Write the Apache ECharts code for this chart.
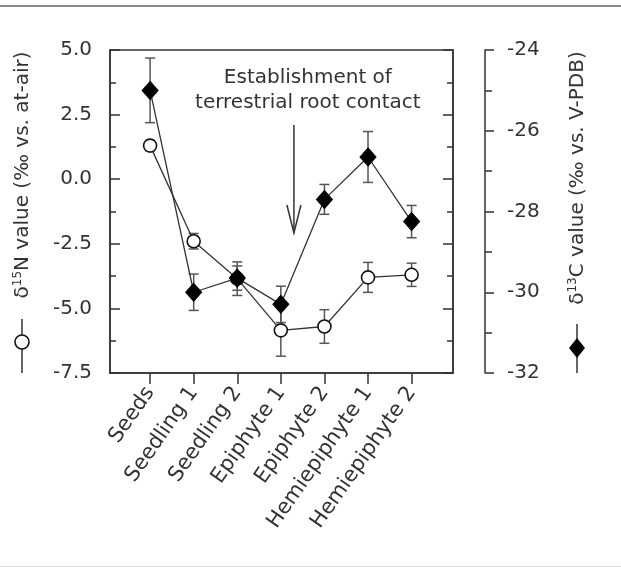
<!DOCTYPE html>
<html>
<head>
<meta charset="utf-8">
<script src="https://cdn.jsdelivr.net/npm/echarts@6/dist/echarts.min.js"></script>
<style>
  html, body { margin: 0; padding: 0; background: #fff; }
  #chart { width: 621px; height: 568px; }
</style>
</head>
<body>
<div id="chart"></div>
<script>
// 分类和数据
const categories = ['Seeds', 'Seedling 1', 'Seedling 2', 'Epiphyte 1', 'Epiphyte 2', 'Hemiepiphyte 1', 'Hemiepiphyte 2'];
const n15Values = [1.3, -2.4, -3.85, -5.85, -5.7, -3.8, -3.7];
const n15Errors = [0.2, 0.3, 0.65, 1.0, 0.65, 0.58, 0.45];
const c13Values = [-25.0, -30.0, -29.65, -30.3, -27.7, -26.65, -28.25];
const c13Errors = [0.8, 0.45, 0.3, 0.45, 0.37, 0.63, 0.4];
const tickPositions = [0, 1, 2, 3, 4, 5, 6];
// 箭头注释 (x, 上端, 下端) 和文字位置
const arrowAt = [3.3, 2.1, -2.08];
const noteAt = [3.62, 3.43];
const noteText = 'Establishment of\nterrestrial root contact';

const ink = '#333';
const font = 'DejaVu Sans';

let chart = echarts.init(document.getElementById('chart'));

function toPoints(vals) {
	return vals.map(function(v, i) { return [i, v]; });
}
function toErrors(vals, errs) {
	return vals.map(function(v, i) { return [i, v + errs[i], v - errs[i]]; });
}
function errorBar(params, api) {
	let top = api.coord([api.value(0), api.value(1)]);
	let bottom = api.coord([api.value(0), api.value(2)]);
	let w = 5;
	let st = { stroke: '#555', lineWidth: 1.5 };
	return {
		type: 'group',
		children: [
			{ type: 'line', shape: { x1: top[0], y1: top[1], x2: bottom[0], y2: bottom[1] }, style: st },
			{ type: 'line', shape: { x1: top[0] - w, y1: top[1], x2: top[0] + w, y2: top[1] }, style: st },
			{ type: 'line', shape: { x1: bottom[0] - w, y1: bottom[1], x2: bottom[0] + w, y2: bottom[1] }, style: st }
		]
	};
}

let lineStyle = { color: ink, width: 1.5 };

let option = {
	animation: false,
	backgroundColor: '#fff',
	textStyle: { fontFamily: font },
	grid: { left: 110, right: 168, top: 50, bottom: 195, show: true, borderColor: ink, borderWidth: 1.5 },
	xAxis: {
		type: 'value',
		min: -0.92,
		max: 6.95,
		splitLine: { show: false },
		axisLine: { onZero: false, lineStyle: lineStyle },
		axisTick: { customValues: tickPositions, length: 11, lineStyle: lineStyle },
		axisLabel: {
			customValues: tickPositions,
			rotate: 55,
			margin: 16,
			fontSize: 21,
			color: ink,
			fontFamily: font,
			formatter: function(v) { return categories[Math.round(v)]; }
		}
	},
	yAxis: [{
			// δ15N 轴
			type: 'value',
			position: 'left',
			min: -7.5,
			max: 5,
			interval: 2.5,
			splitLine: { show: false },
			axisLine: { show: true, onZero: false, lineStyle: lineStyle },
			axisTick: { show: true, inside: true, length: 10, lineStyle: lineStyle },
			minorTick: { show: true, splitNumber: 2, length: 6, lineStyle: lineStyle },
			axisLabel: {
				fontSize: 20, color: ink, margin: 18, fontFamily: font,
				formatter: function(v) { return v.toFixed(1); }
			}
		},
		{
			// 右边框上的刻度
			type: 'value',
			position: 'right',
			min: -7.5,
			max: 5,
			interval: 2.5,
			splitLine: { show: false },
			axisLine: { show: true, onZero: false, lineStyle: lineStyle },
			axisTick: { show: true, inside: true, length: 10, lineStyle: lineStyle },
			minorTick: { show: true, splitNumber: 2, length: 6, lineStyle: lineStyle },
			axisLabel: { show: false }
		},
		{
			// δ13C 轴
			type: 'value',
			position: 'right',
			offset: 32,
			min: -32,
			max: -24,
			interval: 2,
			splitLine: { show: false },
			axisLine: { show: true, onZero: false, lineStyle: lineStyle },
			axisTick: { show: true, inside: false, length: 9, lineStyle: lineStyle },
			minorTick: { show: true, splitNumber: 2, length: 7, lineStyle: lineStyle },
			axisLabel: { fontSize: 20, color: ink, margin: 22, fontFamily: font }
		}
	],
	series: [{
			name: 'N err',
			type: 'custom',
			yAxisIndex: 0,
			renderItem: errorBar,
			encode: { x: 0, y: [1, 2] },
			data: toErrors(n15Values, n15Errors),
			z: 2
		},
		{
			name: 'δ15N',
			type: 'line',
			yAxisIndex: 0,
			data: toPoints(n15Values),
			symbol: 'circle',
			symbolSize: 13,
			lineStyle: { color: ink, width: 1.3 },
			itemStyle: { color: '#fff', borderColor: '#111', borderWidth: 1.6 },
			z: 3
		},
		{
			name: 'C err',
			type: 'custom',
			yAxisIndex: 2,
			renderItem: errorBar,
			encode: { x: 0, y: [1, 2] },
			data: toErrors(c13Values, c13Errors),
			z: 4
		},
		{
			name: 'δ13C',
			type: 'line',
			yAxisIndex: 2,
			data: toPoints(c13Values),
			symbol: 'diamond',
			symbolSize: [16, 18],
			lineStyle: { color: ink, width: 1.3 },
			itemStyle: { color: '#000', borderColor: '#000', borderWidth: 1 },
			z: 5
		},
		{
			// 箭头和说明文字
			name: 'note',
			type: 'custom',
			yAxisIndex: 0,
			silent: true,
			encode: { x: 0, y: [1, 2] },
			data: [arrowAt],
			renderItem: function(params, api) {
				let top = api.coord([api.value(0), api.value(1)]);
				let tip = api.coord([api.value(0), api.value(2)]);
				let txt = api.coord(noteAt);
				let st = { stroke: ink, lineWidth: 1.5, fill: null };
				return {
					type: 'group',
					children: [
						{ type: 'line', shape: { x1: top[0], y1: top[1], x2: tip[0], y2: tip[1] }, style: st },
						{ type: 'polyline', shape: { points: [[tip[0] - 7, tip[1] - 28], [tip[0], tip[1]], [tip[0] + 7, tip[1] - 28]] }, style: st },
						{
							type: 'text', x: txt[0], y: txt[1],
							style: {
								text: noteText, fill: ink, fontSize: 20, fontFamily: font,
								align: 'center', verticalAlign: 'middle', lineHeight: 25
							}
						}
					]
				};
			}
		}
	],
	graphic: [
		// 顶部和底部的边框线
		{ type: 'rect', left: 0, top: 5, shape: { width: 621, height: 2 }, style: { fill: '#888' } },
		{ type: 'rect', left: 0, top: 566, shape: { width: 621, height: 1 }, style: { fill: '#ddd' } },
		// 左轴标题
		{
			type: 'text', x: 23, y: 175, rotation: Math.PI / 2,
			style: {
				text: '{a|δ}{s|15}{a|N value (‰ vs. at-air)}',
				align: 'center', verticalAlign: 'middle',
				rich: {
					a: { fontSize: 20, fontFamily: font, fill: ink, lineHeight: 24 },
					s: { fontSize: 12, fontFamily: font, fill: ink, lineHeight: 24, padding: [0, 0, 10, 0] }
				}
			}
		},
		// 右轴标题
		{
			type: 'text', x: 578, y: 178, rotation: Math.PI / 2,
			style: {
				text: '{a|δ}{s|13}{a|C value (‰ vs. V-PDB)}',
				align: 'center', verticalAlign: 'middle',
				rich: {
					a: { fontSize: 20, fontFamily: font, fill: ink, lineHeight: 24 },
					s: { fontSize: 12, fontFamily: font, fill: ink, lineHeight: 24, padding: [0, 0, 10, 0] }
				}
			}
		},
		// 图例符号
		{ type: 'line', shape: { x1: 22, y1: 319, x2: 22, y2: 373 }, style: { stroke: ink, lineWidth: 1.5 } },
		{ type: 'circle', shape: { cx: 22, cy: 342, r: 7 }, style: { fill: '#fff', stroke: '#111', lineWidth: 1.6 } },
		{ type: 'line', shape: { x1: 577, y1: 324, x2: 577, y2: 373 }, style: { stroke: ink, lineWidth: 1.5 } },
		{ type: 'polygon', shape: { points: [[577, 338], [585, 348], [577, 358], [569, 348]] }, style: { fill: '#000' } }
	]
};

chart.setOption(option);
</script>
</body>
</html>
